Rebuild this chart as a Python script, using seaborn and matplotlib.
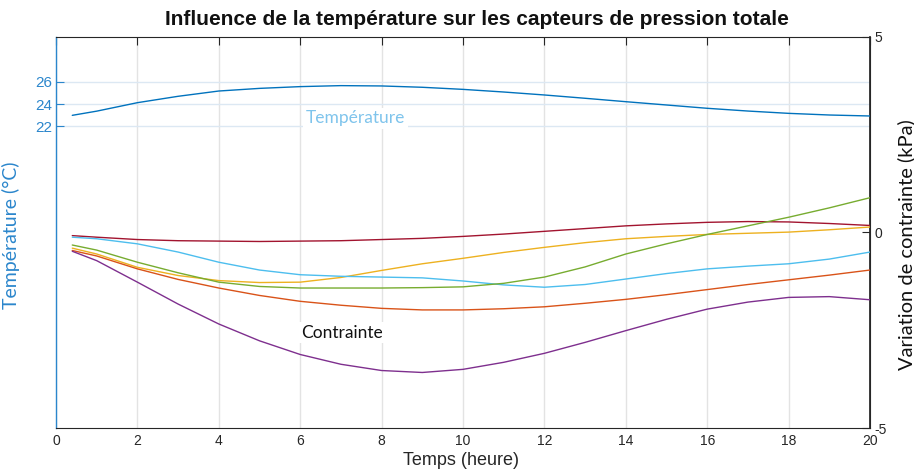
import matplotlib
matplotlib.use("Agg")
import matplotlib.pyplot as plt
import seaborn as sns
import pandas as pd

# Time axis (hours)
hours = [0.4, 1, 2, 3, 4, 5, 6, 7, 8, 9, 10, 11, 12, 13, 14, 15, 16, 17, 18, 19, 20]

# Ambient temperature (°C)
temperature = [22.97, 23.35, 24.12, 24.70, 25.18, 25.42, 25.58, 25.67, 25.64, 25.52, 25.33,
               25.09, 24.82, 24.52, 24.21, 23.91, 23.61, 23.36, 23.15, 23.00, 22.91]

# Stress variation for each total pressure cell (kPa)
stress_red = [-0.08, -0.12, -0.18, -0.21, -0.22, -0.23, -0.22, -0.21, -0.18, -0.15, -0.10,
              -0.04, 0.03, 0.10, 0.17, 0.22, 0.26, 0.28, 0.27, 0.23, 0.18]
stress_sky = [-0.12, -0.16, -0.29, -0.50, -0.76, -0.96, -1.08, -1.12, -1.14, -1.16, -1.24,
              -1.34, -1.40, -1.33, -1.19, -1.05, -0.93, -0.86, -0.80, -0.68, -0.50]
stress_green = [-0.32, -0.45, -0.76, -1.03, -1.27, -1.38, -1.42, -1.42, -1.42, -1.41, -1.39,
                -1.30, -1.14, -0.88, -0.55, -0.29, -0.05, 0.17, 0.39, 0.63, 0.89]
stress_yellow = [-0.40, -0.55, -0.89, -1.10, -1.23, -1.28, -1.27, -1.15, -0.97, -0.80, -0.66,
                 -0.51, -0.38, -0.26, -0.16, -0.10, -0.05, -0.02, 0.01, 0.07, 0.14]
stress_orange = [-0.46, -0.60, -0.93, -1.20, -1.42, -1.61, -1.76, -1.86, -1.94, -1.98, -1.98,
                 -1.95, -1.90, -1.81, -1.71, -1.59, -1.46, -1.33, -1.21, -1.09, -0.96]
stress_purple = [-0.48, -0.72, -1.27, -1.83, -2.34, -2.77, -3.12, -3.37, -3.53, -3.58, -3.50,
                 -3.32, -3.09, -2.81, -2.51, -2.22, -1.96, -1.78, -1.66, -1.64, -1.72]

x_ticks = [0, 2, 4, 6, 8, 10, 12, 14, 16, 18, 20]
temp_ticks = [22, 24, 26]
stress_ticks = [-5, 0, 5]

sns.set_theme(style="white")
plt.rcParams["font.family"] = ["Liberation Sans", "DejaVu Sans"]

BLUE = "#0072BD"
AXIS_BLUE = "#2B86CC"
TICK_FONT = ["Liberation Sans", "DejaVu Sans"]
LABEL_FONT = ["Lato", "DejaVu Sans"]

fig = plt.figure(figsize=(9.14, 4.74), dpi=100)
ax = fig.add_axes([56 / 914, (474 - 428) / 474, (870 - 56) / 914, (428 - 37) / 474])
ax2 = ax.twinx()

# Temperature on the left axis
df_t = pd.DataFrame({"h": hours, "t": temperature})
sns.lineplot(data=df_t, x="h", y="t", ax=ax, color=BLUE, lw=1.0, zorder=3)

# Stress curves on the right axis
series = [
    (stress_red, "#A2142F"),
    (stress_yellow, "#EDB120"),
    (stress_sky, "#4DBEEE"),
    (stress_green, "#77AC30"),
    (stress_orange, "#D95319"),
    (stress_purple, "#7E2F8E"),
]
for vals, col in series:
    d = pd.DataFrame({"h": hours, "s": vals})
    sns.lineplot(data=d, x="h", y="s", ax=ax2, color=col, lw=1.0)

ax.set_xlim(0, 20)
ax.set_ylim(-5.45, 30.09)
ax2.set_ylim(-5, 5)

ax.set_xticks(x_ticks)
ax.set_xticklabels([str(v) for v in x_ticks], family=TICK_FONT, fontsize=10, color="#262626")
ax.set_yticks(temp_ticks)
ax.set_yticklabels([str(v) for v in temp_ticks], family=TICK_FONT, fontsize=11, color=AXIS_BLUE)
ax2.set_yticks(stress_ticks)
ax2.set_yticklabels([str(v) for v in stress_ticks], family=TICK_FONT, fontsize=10, color="#262626")

ax.tick_params(axis="x", direction="in", length=6, width=0.8, color="#262626", pad=4,
               top=True)
ax.tick_params(axis="y", direction="in", length=6, width=0.8, color=AXIS_BLUE, pad=3)
ax2.tick_params(axis="y", direction="in", length=6, width=0.8, color="#262626", pad=3)

# Grid
ax.set_axisbelow(True)
ax.xaxis.grid(True, color="#E3E3E3", lw=1.0)
ax.yaxis.grid(True, color="#DCE8F3", lw=1.0)
ax2.grid(False)

for s in ["top", "bottom"]:
    ax.spines[s].set_color("#262626")
    ax.spines[s].set_linewidth(0.8)
ax.spines["left"].set_color(AXIS_BLUE)
ax.spines["left"].set_linewidth(1.0)
ax2.spines["left"].set_visible(False)
ax2.spines["right"].set_color("#262626")
ax2.spines["right"].set_linewidth(0.8)
for s in ["top", "bottom"]:
    ax2.spines[s].set_visible(False)

# Labels
ax.set_xlabel("Temps (heure)", family=TICK_FONT, fontsize=13, color="#262626")
ax.xaxis.set_label_coords(0.497, -0.062)
ax.set_ylabel("Température (°C)", family=LABEL_FONT, fontsize=14, color=AXIS_BLUE)
ax.yaxis.set_label_coords(-0.044, 0.494)
ax2.set_ylabel("Variation de contrainte (kPa)", family=LABEL_FONT, fontsize=14.5, color="#111111")
ax2.yaxis.set_label_coords(1.033, 0.47)

fig.text(0.522, 0.958, "Influence de la température sur les capteurs de pression totale",
         ha="center", va="center", fontsize=15, fontweight="bold", color="#111111")

# Curve annotations
ax.text(7.35, 22.7, "Température", ha="center", va="center", family=LABEL_FONT,
        fontsize=12.5, color="#7FC4EC", zorder=4,
        bbox=dict(facecolor="white", edgecolor="none", pad=2))
ax2.text(7.03, -2.56, "Contrainte", ha="center", va="center", family=LABEL_FONT,
         fontsize=12.5, color="#111111", zorder=4,
         bbox=dict(facecolor="white", edgecolor="none", pad=2))

ax.set_zorder(ax2.get_zorder() - 1)
ax.patch.set_visible(True)
ax2.patch.set_visible(False)

fig.savefig("out.png", dpi=100)
